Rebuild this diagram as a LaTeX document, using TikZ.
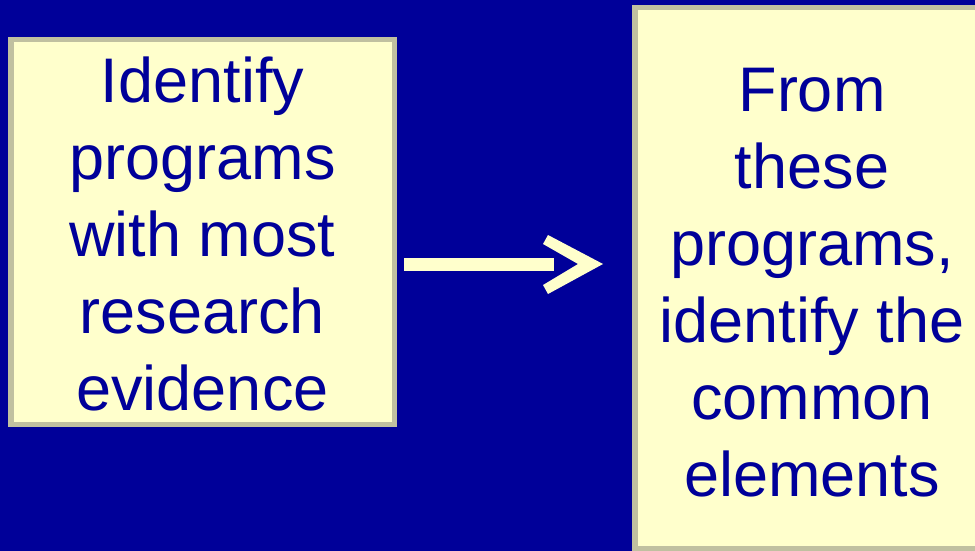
\documentclass[tikz,border=0pt]{standalone}
\usepackage{fontspec}
\setmainfont{Liberation Sans}
\definecolor{slideblue}{HTML}{000099}
\definecolor{paleyellow}{HTML}{FFFFCC}
\definecolor{boxedge}{HTML}{C0C0A0}
\begin{document}
\begin{tikzpicture}[x=1pt,y=-1pt,
  textbox/.style={draw=boxedge, line width=5.5pt, fill=paleyellow,
    text=slideblue, align=center, inner sep=0pt,
    font=\fontsize{63}{77}\selectfont},
  arrowpart/.style={fill=paleyellow}]
  % slide background
  \fill[slideblue] (0,0) rectangle (975,551);
  \useasboundingbox (0,0) rectangle (975,551);
  \begin{scope}
    \clip (0,0) rectangle (975,551);
    % left box
    \node[textbox, minimum width=383.5pt, minimum height=384.5pt]
      (left) at (202.5,232) {};
    \node[text=slideblue, align=center, inner sep=0pt,
      font=\fontsize{63}{77}\selectfont] (lefttext) at (202.5,234)
      {Identify\\programs\\with most\\research\\evidence};
    % right box
    \node[textbox, minimum width=354.5pt, minimum height=540.5pt]
      (right) at (812,278) {};
    \node[text=slideblue, align=center, inner sep=0pt,
      font=\fontsize{63}{77}\selectfont] (righttext) at (812,282.5)
      {From\\these\\programs,\\identify the\\common\\elements};
  \end{scope}
  % arrow between the boxes
  \coordinate (shaftA) at (404,258);
  \coordinate (shaftB) at (554,271);
  \fill[arrowpart] (shaftA) rectangle (shaftB);
  \fill[arrowpart] (548,235) -- (603,264) -- (548,294) -- (543,285)
    -- (578,264) -- (543,244) -- cycle;
\end{tikzpicture}
\end{document}
